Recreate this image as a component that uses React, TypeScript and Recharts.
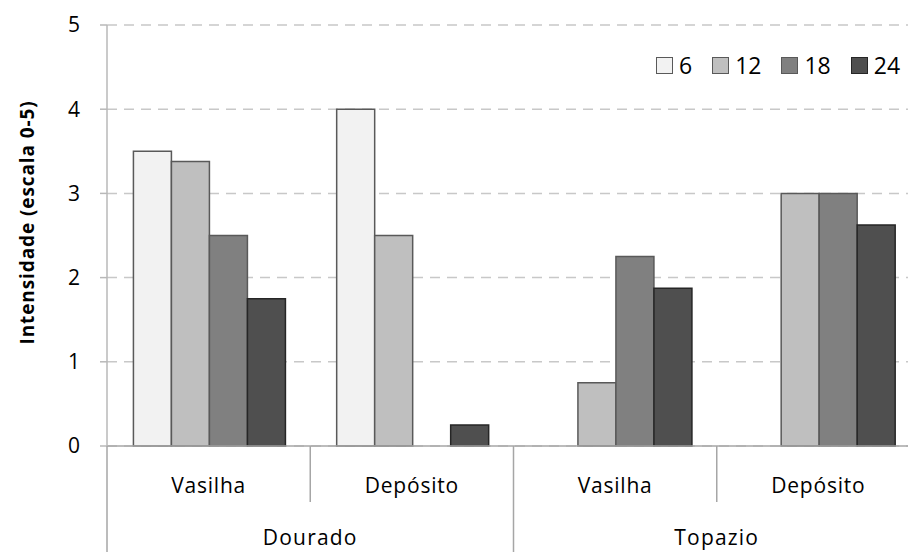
import React from 'react';
import { BarChart, Bar, XAxis, YAxis, CartesianGrid, Legend } from 'recharts';

// Chart data: intensity (0-5) per storage / wine
const places = ['Vasilha', 'Depósito', 'Vasilha', 'Depósito'];
const groups = ['Dourado', 'Dourado', 'Topazio', 'Topazio'];
const months = ['6', '12', '18', '24'];
const values6 = [3.5, 4.0, null, null];
const values12 = [3.38, 2.5, 0.75, 3.0];
const values18 = [2.5, null, 2.25, 3.0];
const values24 = [1.75, 0.25, 1.875, 2.625];
const yTicks = [0, 1, 2, 3, 4, 5];

const fills = ['#f2f2f2', '#bfbfbf', '#808080', '#4f4f4f'];
const strokes = ['#595959', '#595959', '#595959', '#262626'];

const data = places.map((place, i) => ({
  key: `${groups[i]}-${i}`,
  place,
  group: groups[i],
  m6: values6[i],
  m12: values12[i],
  m18: values18[i],
  m24: values24[i],
}));

// Layout
const CHART_W = 930;
const CHART_H = 552;
const MARGIN = { top: 25, right: 10, left: 0, bottom: 0 };
const Y_AXIS_W = 107;
const X_AXIS_H = 106;
const BAND = (CHART_W - MARGIN.left - MARGIN.right - Y_AXIS_W) / places.length;

const FONT = '"Open Sans", sans-serif';
const AXIS_COLOR = '#a6a6a6';

function CategoryTick(props: any) {
  const { x, y, index } = props;
  const left = x - BAND / 2;
  const right = x + BAND / 2;
  const endOfGroup = index % 2 === 1;
  return (
    <g>
      {index === 0 && (
        <line x1={left} y1={y} x2={left} y2={CHART_H} stroke={AXIS_COLOR} strokeWidth={1.5} />
      )}
      <line
        x1={right}
        y1={y}
        x2={right}
        y2={endOfGroup ? CHART_H : y + 56}
        stroke={AXIS_COLOR}
        strokeWidth={1.5}
      />
      <text
        x={x}
        y={y + 47}
        textAnchor="middle"
        fill="#000"
        fontSize={21}
        letterSpacing={0.8}
        fontFamily={FONT}
      >
        {places[index]}
      </text>
      {!endOfGroup && (
        <text
          x={right}
          y={y + 99}
          textAnchor="middle"
          fill="#000"
          fontSize={21}
          letterSpacing={1.2}
          fontFamily={FONT}
        >
          {groups[index]}
        </text>
      )}
    </g>
  );
}

function YLabel(props: any) {
  const { viewBox } = props;
  const cx = viewBox.x + 27;
  const cy = viewBox.y + viewBox.height / 2 - 13;
  return (
    <text
      x={cx}
      y={cy}
      transform={`rotate(-90, ${cx}, ${cy})`}
      textAnchor="middle"
      dominantBaseline="central"
      fill="#000"
      fontSize={19}
      fontWeight={700}
      letterSpacing={0.9}
      fontFamily={FONT}
    >
      Intensidade (escala 0-5)
    </text>
  );
}

function LegendContent() {
  return (
    <div
      style={{
        display: 'flex',
        alignItems: 'center',
        fontFamily: FONT,
        fontSize: 23,
        whiteSpace: 'nowrap',
      }}
    >
      {months.map((m, i) => (
        <div key={m} style={{ display: 'flex', alignItems: 'center', marginRight: i < 3 ? 20 : 0 }}>
          <span
            style={{
              display: 'inline-block',
              width: 15,
              height: 15,
              background: fills[i],
              border: `1.5px solid ${strokes[i]}`,
              marginRight: 6,
            }}
          />
          <span style={{ color: '#000', lineHeight: '24px' }}>{m}</span>
        </div>
      ))}
    </div>
  );
}

export default function App() {
  const keys = ['m6', 'm12', 'm18', 'm24'];
  return (
    <div
      style={{
        position: 'fixed',
        left: 0,
        top: 0,
        width: 908,
        height: 552,
        overflow: 'hidden',
        background: '#fff',
      }}
    >
      <BarChart
        width={CHART_W}
        height={CHART_H}
        data={data}
        margin={MARGIN}
        barCategoryGap="13%"
        barGap={0}
      >
        <CartesianGrid
          vertical={false}
          stroke="#c8c8c8"
          strokeDasharray="10 7"
          strokeWidth={1.5}
        />
        <XAxis
          dataKey="key"
          tick={(p: any) => <CategoryTick {...p} />}
          tickLine={false}
          tickSize={0}
          tickMargin={0}
          height={X_AXIS_H}
          axisLine={{ stroke: AXIS_COLOR, strokeWidth: 1.5 }}
          interval={0}
        />
        <YAxis
          domain={[0, 5]}
          ticks={yTicks}
          width={Y_AXIS_W}
          tickSize={7}
          tickMargin={20}
          axisLine={{ stroke: '#b8b8b8', strokeWidth: 1.5 }}
          tickLine={{ stroke: '#b8b8b8', strokeWidth: 1.5 }}
          tick={{ fill: '#000', fontSize: 21, fontFamily: FONT }}
          label={(p: any) => <YLabel {...p} />}
        />
        <Legend
          content={<LegendContent />}
          layout="horizontal"
          verticalAlign="middle"
          wrapperStyle={{ position: 'absolute', left: 656, top: 53, width: 'auto', height: 'auto' }}
        />
        {keys.map((k, i) => (
          <Bar
            key={k}
            dataKey={k}
            name={months[i]}
            fill={fills[i]}
            stroke={strokes[i]}
            strokeWidth={1.5}
            isAnimationActive={false}
          />
        ))}
      </BarChart>
    </div>
  );
}
